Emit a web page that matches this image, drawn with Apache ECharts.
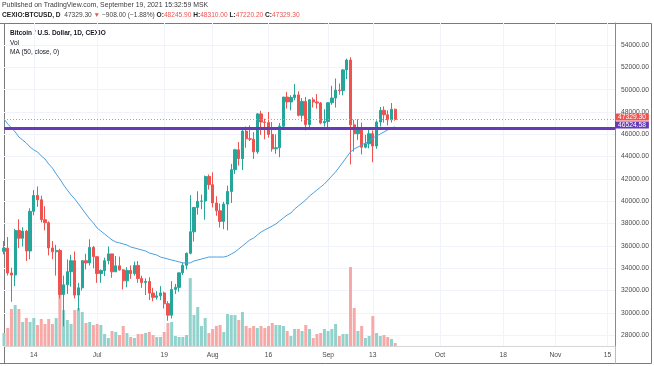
<!DOCTYPE html>
<html><head><meta charset="utf-8">
<script src="https://cdn.jsdelivr.net/npm/echarts@6/dist/echarts.min.js"></script>
<style>html,body{margin:0;padding:0;background:#fff}#c{width:654px;height:366px}</style>
</head><body><div id="c"></div>
<script>
// ---- data (Jun 6 .. Sep 19, 2021, daily) ----
const startDate = '2021-06-06';
const axisDays = 165; // axis runs Jun 6 .. Nov 17
const opens = [35520,35800,33580,33400,37390,36690,37330,35550,39100,40520,40140,38350,38090,35820,35480,35600,31650,32520,33700,34680,31600,32250,34680,34480,35870,
35040,33530,33800,34680,35290,33690,34220,33860,32880,33810,33520,34260,33090,32730,32820,31780,31400,31530,31790,30830,29800,32110,32290,33590,34270,35350,37270,39450,40000,40030,42220,
41490,39850,39150,38200,39750,40880,42830,44610,43820,46290,45600,45560,44430,47830,47100,47050,45990,44700,44800,46720,49340,48900,49300,49530,47700,48950,46870,49090,48900,48800,47020,
47150,48830,49250,49960,49920,51770,52650,46850,46050,46390,44850,45150,46050,44950,47100,48150,47750,47300,48245.9];
const closes = [35800,33580,33400,37390,36690,37330,35550,39100,40520,40140,38350,38090,35820,35480,35600,31650,32520,33700,34680,31600,32250,34680,34480,35870,35040,
33530,33800,34680,35290,33690,34220,33860,32880,33810,33520,34260,33090,32730,32820,31780,31400,31530,31790,30830,29800,32110,32290,33590,34270,35350,37270,39450,40000,40030,42220,41490,
39850,39150,38200,39750,40880,42830,44610,43820,46290,45600,45560,44430,47830,47100,47050,45990,44700,44800,46720,49340,48900,49300,49530,47700,48950,46870,49090,48900,48800,47020,47150,
48830,49250,49960,49920,51770,52650,46850,46050,46390,44850,45150,46050,44950,47100,48150,47750,47300,48245.9,47329.3];
const highs = [36450,36800,34050,37530,38400,37680,37440,39380,41000,41330,40500,39560,38200,36440,36100,35750,33350,34800,35200,35500,32700,34700,35300,36600,36000,
35040,33900,34950,35950,35300,35100,35050,33900,34100,34250,34600,34650,33330,33100,33200,32250,31950,32400,31900,31050,32850,32600,33600,34500,35400,40550,39500,40900,40600,42300,42400,
42600,40450,39800,39950,41400,43350,44700,45300,46450,46700,46800,46200,47900,48100,47400,48000,47100,46000,47000,49350,49800,49500,50500,49850,49250,49350,49150,49300,49600,48900,48250,
48850,50350,51000,50550,51850,52780,52900,47300,47350,47050,45950,46450,46350,47250,48450,48500,48150,48800,48310];
const lows = [35250,33350,31000,32400,35800,35950,34650,34800,38750,39510,38100,37400,35150,34820,33350,31300,28800,31700,32350,31300,30200,32000,33900,34250,34000,
32700,32700,33300,34350,33150,33650,33780,32100,32300,33050,33350,32700,32250,31600,31150,31050,31200,31150,30400,29300,29500,31700,31900,33400,33900,35250,36400,38800,39300,38350,41050,
39450,38700,37650,37500,37400,39850,42450,43200,42800,44800,45400,43800,44250,45950,45550,45700,44450,44250,43950,46650,48300,48150,49050,47600,47150,46350,46450,48400,48300,46900,46700,
46550,48650,48400,49550,49500,50950,43300,44450,45500,44200,44750,44750,43500,44700,46700,47050,46800,47050,47220.2];
const volumes = [390,540,1110,1230,1110,720,840,720,840,630,810,660,810,660,840,1590,1080,780,660,1080,1140,1020,690,720,630,
660,630,360,240,450,420,330,600,390,270,240,360,360,390,420,330,270,270,420,690,720,300,270,270,330,2040,930,1170,600,840,390,
510,600,630,420,960,930,930,780,1020,600,540,600,540,600,540,600,690,630,630,600,450,300,510,510,450,630,510,240,360,390,510,
450,510,660,300,360,360,2370,1140,450,600,240,300,900,390,300,330,270,210,90];
const ma50 = [47370,46930,46570,46210,45760,45490,45220,44860,44600,44420,44060,43790,43340,42980,42450,42000,41460,41010,40570,40210,
39760,39310,38860,38420,38060,37610,37340,37070,36800,36540,36360,36270,36180,36090,35910,35820,35730,35640,35550,35370,
35280,35190,35010,34920,34830,34740,34660,34570,34480,34480,34480,34660,34740,34830,34920,35010,35010,35010,35010,35010,
35100,35280,35460,35730,36000,36270,36540,36710,36980,37250,37430,37610,37790,37970,38240,38510,38770,38950,39310,39580,
39850,40120,40480,40740,41010,41280,41550,41910,42270,42630,43070,43520,43970,44420,44690,44860,45040,45220,45400,45670,
45850,46030,46210,46390,46570,46660];
const priceTicks = [28000,30000,32000,34000,36000,38000,40000,42000,44000,46000,48000,50000,52000,54000];
const dateTicks = ['2021-06-14','2021-07-01','2021-07-19','2021-08-01','2021-08-16','2021-09-01','2021-09-13','2021-10-01','2021-10-18','2021-11-01','2021-11-15'];
const dateTickText = ['14','Jul','19','Aug','16','Sep','13','Oct','18','Nov','15'];
const hLineLevel = 46524.58;
const lastClose = 47329.30;

// ---- build ----
const dates = [];
{ const d0 = new Date(startDate + 'T00:00:00Z');
  for (let i = 0; i < axisDays; i++) { const d = new Date(d0.getTime() + i*86400000); dates.push(d.toISOString().slice(0,10)); } }
const tickMap = {}; dateTicks.forEach((d,i)=>tickMap[d]=dateTickText[i]);
const candles = opens.map((o,i)=>[o, closes[i], lows[i], highs[i]]);
const UP='#26a69a', DOWN='#ef5350';
const volData = volumes.map((v,i)=>({value:v,itemStyle:{color: closes[i]>=opens[i] ? '#92d2cc' : '#f7a9a7'}}));
const FONT = 'Liberation Sans';
const TXT = '#131722';

const chart = echarts.init(document.getElementById('c'), null, {renderer:'canvas'});
chart.setOption({
  animation:false,
  backgroundColor:'#fff',
  grid:{left:4,right:39,top:23,bottom:20,containLabel:false},
  xAxis:{type:'category',data:dates,boundaryGap:false,
    axisLine:{show:true,lineStyle:{color:'#d6d6d6'}},axisTick:{show:false},
    axisLabel:{interval:(i,v)=>tickMap[v]!==undefined,formatter:v=>tickMap[v]||'',color:'#4a4a4a',fontSize:6.7,fontFamily:FONT,margin:6},
    splitLine:{show:true,interval:(i,v)=>tickMap[v]!==undefined,lineStyle:{color:'#f0f3fa',width:1}}},
  yAxis:[{type:'value',position:'right',min:27040,max:55970,
      axisLine:{show:true,lineStyle:{color:'#8a8a8a'}},axisTick:{show:false,customValues:priceTicks},
      axisLabel:{customValues:priceTicks,formatter:v=>v.toFixed(2),color:'#4a4a4a',fontSize:6.7,fontFamily:FONT,margin:6},
      splitLine:{show:true,lineStyle:{color:'#f0f3fa',width:1}}},
    {type:'value',min:0,max:9700,show:false,splitLine:{show:false}}],
  series:[
    {type:'bar',yAxisIndex:1,data:volData,barWidth:3,z:1,silent:true},
    {type:'candlestick',data:candles,barWidth:2.8,z:3,
      itemStyle:{color:UP,color0:DOWN,borderColor:UP,borderColor0:DOWN,borderWidth:1},
      markLine:{silent:true,symbol:['none','none'],animation:false,
        data:[
          {yAxis:lastClose,lineStyle:{color:'#f08a70',type:[1,2],width:1},
           label:{show:true,position:'end',distance:0,formatter:lastClose.toFixed(2),color:'#fff',backgroundColor:'#ef5350',padding:[0,3,0,3],lineHeight:7,fontSize:6.7,fontFamily:FONT,offset:[0,-2.5]}},
          {yAxis:hLineLevel,lineStyle:{color:'#673ab7',type:'solid',width:3},
           label:{show:true,position:'end',distance:0,formatter:hLineLevel.toFixed(2),color:'#fff',backgroundColor:'#673ab7',padding:[0,3,0,3],lineHeight:7,fontSize:6.7,fontFamily:FONT,offset:[0,-3.5]}}
        ]}},
    {type:'line',data:ma50,showSymbol:false,symbol:'none',z:4,lineStyle:{color:'#4a9fe0',width:1}}
  ],
  graphic:[
    {type:'text',left:2,top:2,style:{text:'Published on TradingView.com, September 19, 2021 15:32:59 MSK',font:'6.9px '+FONT,fill:'#3a3a3a'}},
    {type:'text',left:2,top:12,style:{
      text:'{b|CEXIO:BTCUSD, D}  {n|47329.30} {r|▼} {n|−908.00 (−1.88%)} {b|O:}{r|48245.90} {b|H:}{r|48310.00} {b|L:}{r|47220.20} {b|C:}{r|47329.30}',
      font:'6.6px '+FONT,
      rich:{b:{font:'bold 6.6px '+FONT,fill:'#222'},n:{font:'6.6px '+FONT,fill:'#444'},r:{font:'6.6px '+FONT,fill:'#ef5350'}}}},
    {type:'text',left:10,top:30,style:{text:'Bitcoin / U.S. Dollar, 1D, CEXIO',font:'bold 6.5px '+FONT,fill:TXT}},
    {type:'text',left:10,top:39.5,style:{text:'Vol',font:'6.5px '+FONT,fill:TXT}},
    {type:'text',left:10,top:48.5,style:{text:'MA (50, close, 0)',font:'6.5px '+FONT,fill:TXT}},
    {type:'line',shape:{x1:0,y1:23.5,x2:651.5,y2:23.5},style:{stroke:'#7a7a7a',lineWidth:1},silent:true},
    {type:'line',shape:{x1:651.5,y1:23.5,x2:651.5,y2:363.5},style:{stroke:'#7a7a7a',lineWidth:1},silent:true},
    {type:'line',shape:{x1:0,y1:363.5,x2:651.5,y2:363.5},style:{stroke:'#7a7a7a',lineWidth:1},silent:true},
    {type:'line',shape:{x1:4.5,y1:23.5,x2:4.5,y2:363.5},style:{stroke:'#7a7a7a',lineWidth:1},silent:true},
    {type:'line',shape:{x1:615.5,y1:346,x2:615.5,y2:363.5},style:{stroke:'#bdbdbd',lineWidth:1},silent:true}
  ]
});
</script></body></html>
